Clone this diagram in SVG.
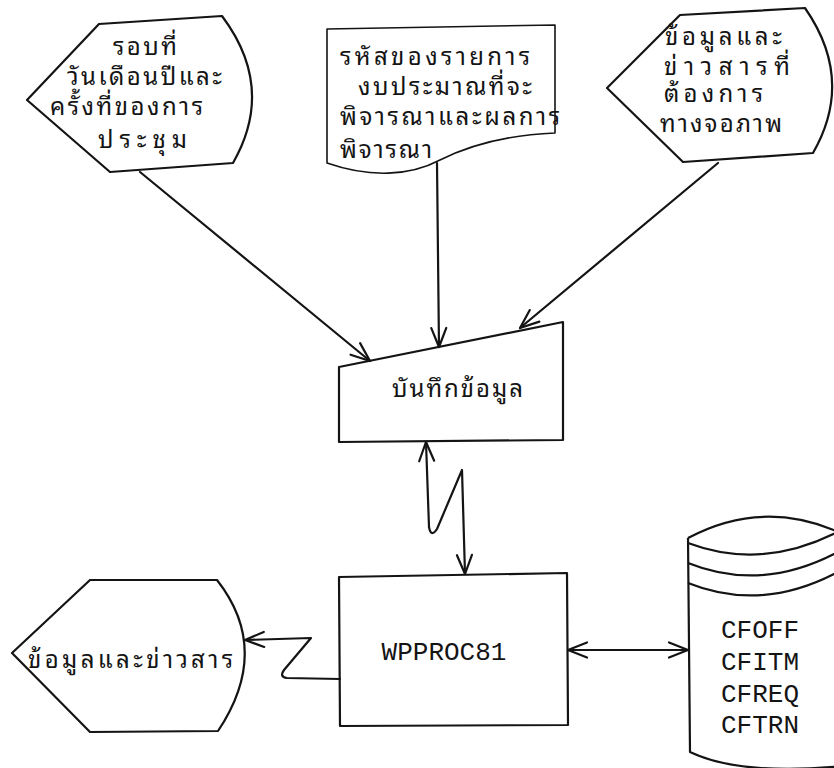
<svg xmlns="http://www.w3.org/2000/svg" width="834" height="768" viewBox="0 0 834 768">
  <style>
    .shape { fill: none; stroke: #141414; stroke-width: 2.2; stroke-linejoin: round; }
    .thin { stroke-width: 1.6; }
    .link { fill: none; stroke: #141414; stroke-width: 2.2; stroke-linecap: round; stroke-linejoin: round; }
    .th { font-family: "Noto Sans Thai Looped", "Noto Sans Thai", "Loma", "Garuda", "Norasi", sans-serif; font-size: 24px; fill: #141414; }
    .mono { font-family: "Liberation Mono", "Courier New", monospace; font-size: 26px; fill: #141414; }
  </style>
  <defs>
    <marker id="vee" viewBox="-22 -10 24 20" refX="0" refY="0" markerWidth="24" markerHeight="20" markerUnits="userSpaceOnUse" orient="auto-start-reverse">
      <path d="M-19,-7.5 L0,0 L-19,7.5" fill="none" stroke="#141414" stroke-width="2.2" stroke-linecap="round" stroke-linejoin="round"/>
    </marker>
  </defs>
  <rect width="834" height="768" fill="#ffffff"/>

  <!-- display: meeting round / date / sequence -->
  <g id="display-meeting">
    <path class="shape" d="M27,100 L99,24 L222,16 Q276,88 233,163 L110,172 Z"/>
    <text class="th" x="113" y="55" textLength="64" lengthAdjust="spacing">รอบที่</text>
    <text class="th" x="67" y="85" textLength="155" lengthAdjust="spacing">วันเดือนปีและ</text>
    <text class="th" x="50" y="115" textLength="153" lengthAdjust="spacing">ครั้งที่ของการ</text>
    <text class="th" x="98" y="148" textLength="89" lengthAdjust="spacing">ประชุม</text>
  </g>

  <!-- document: budget item codes and results -->
  <g id="doc-budget">
    <path class="shape thin" d="M327,29 L555,25 L555,133 C505,135 470,145 440,160 C410,176 370,178 327,163 Z"/>
    <text class="th" x="340" y="65" textLength="190" lengthAdjust="spacing">รหัสของรายการ</text>
    <text class="th" x="358" y="95" textLength="174" lengthAdjust="spacing">งบประมาณที่จะ</text>
    <text class="th" x="340" y="125" textLength="220" lengthAdjust="spacing">พิจารณาและผลการ</text>
    <text class="th" x="340" y="158" textLength="92" lengthAdjust="spacing">พิจารณา</text>
  </g>

  <!-- display: requested screen information -->
  <g id="display-request">
    <path class="shape" d="M607,88 L680,15 L805,8 Q855,80 813,153 L683,162 Z"/>
    <text class="th" x="665" y="45" textLength="117" lengthAdjust="spacing">ข้อมูลและ</text>
    <text class="th" x="664" y="75" textLength="126" lengthAdjust="spacing">ข่าวสารที่</text>
    <text class="th" x="664" y="102" textLength="99" lengthAdjust="spacing">ต้องการ</text>
    <text class="th" x="660" y="132" textLength="122" lengthAdjust="spacing">ทางจอภาพ</text>
  </g>

  <!-- manual input -->
  <g id="manual-input">
    <path class="shape" d="M339,367 L563,322 L563,440 L339,442 Z"/>
    <text class="th" x="392" y="397" textLength="131" lengthAdjust="spacing">บันทึกข้อมูล</text>
  </g>

  <!-- process -->
  <g id="process">
    <path class="shape" d="M339,577 L567,573 L568,725 L340,726 Z"/>
    <text class="mono" x="444" y="660" text-anchor="middle">WPPROC81</text>
  </g>

  <!-- display output -->
  <g id="display-output">
    <path class="shape" d="M12,653 L90,580 L217,580 Q272,650 218,731 L90,732 Z"/>
    <text class="th" x="28" y="668" textLength="205" lengthAdjust="spacing">ข้อมูลและข่าวสาร</text>
  </g>

  <!-- disk storage -->
  <g id="disk-files">
    <path class="shape" d="M688,538 Q765,497 845,535"/>
    <path class="shape" d="M688,543 Q765,572 845,528"/>
    <path class="shape" d="M688,563 Q765,594 845,548"/>
    <path class="shape" d="M688,583 Q765,614 845,568"/>
    <path class="shape" d="M688,538 L690,752 Q740,776 845,766"/>
    <text class="mono" x="721" y="638">CFOFF</text>
    <text class="mono" x="721" y="670">CFITM</text>
    <text class="mono" x="721" y="702">CFREQ</text>
    <text class="mono" x="721" y="733">CFTRN</text>
  </g>

  <!-- connectors -->
  <g id="connectors">
    <path class="link" d="M140,172 L370,361" marker-end="url(#vee)"/>
    <path class="link" d="M437,163 L439,347" marker-end="url(#vee)"/>
    <path class="link" d="M718,163 L520,328" marker-end="url(#vee)"/>
    <path class="link" d="M426,442 L429,527 Q431,538 437,529 L462,470 L465,574" marker-start="url(#vee)" marker-end="url(#vee)"/>
    <path class="link" d="M340,679 L287,678 Q279,677 284,670 L311,638 L245,640" marker-end="url(#vee)"/>
    <path class="link" d="M568,650 L688,650" marker-start="url(#vee)" marker-end="url(#vee)"/>
  </g>
</svg>
